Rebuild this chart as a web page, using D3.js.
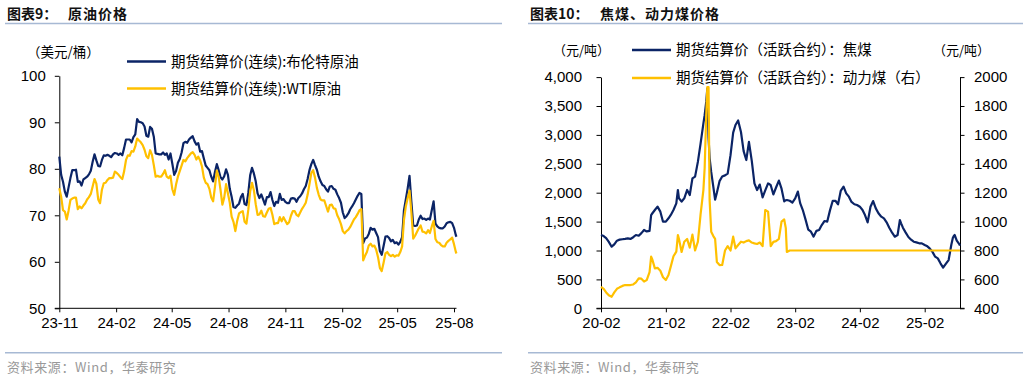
<!DOCTYPE html>
<html><head><meta charset="utf-8">
<script src="https://cdn.jsdelivr.net/npm/d3@7"></script>
<style>
body{margin:0;background:#fff;}
svg{display:block;}
</style></head><body>
<svg id="chart" width="1029" height="378"></svg>
<script>
// ---------------- DATA: crude oil (chart 9), one row per month ----------------
const oilDates = [
'2023-11-01','2023-11-04','2023-11-07','2023-11-10','2023-11-13','2023-11-16','2023-11-19','2023-11-22','2023-11-25','2023-11-28',
'2023-12-01','2023-12-04','2023-12-07','2023-12-10','2023-12-13','2023-12-16','2023-12-19','2023-12-22','2023-12-25','2023-12-28','2023-12-31',
'2024-01-03','2024-01-06','2024-01-09','2024-01-12','2024-01-15','2024-01-18','2024-01-21','2024-01-24','2024-01-27','2024-01-30',
'2024-02-02','2024-02-05','2024-02-08','2024-02-11','2024-02-14','2024-02-17','2024-02-20','2024-02-23','2024-02-26','2024-02-29',
'2024-03-03','2024-03-06','2024-03-09','2024-03-12','2024-03-15','2024-03-18','2024-03-21','2024-03-24','2024-03-27','2024-03-30',
'2024-04-02','2024-04-05','2024-04-08','2024-04-11','2024-04-14','2024-04-17','2024-04-20','2024-04-23','2024-04-26','2024-04-29',
'2024-05-02','2024-05-05','2024-05-08','2024-05-11','2024-05-14','2024-05-17','2024-05-20','2024-05-23','2024-05-26','2024-05-29',
'2024-06-01','2024-06-04','2024-06-07','2024-06-10','2024-06-13','2024-06-16','2024-06-19','2024-06-22','2024-06-25','2024-06-28',
'2024-07-01','2024-07-04','2024-07-07','2024-07-10','2024-07-13','2024-07-16','2024-07-19','2024-07-22','2024-07-25','2024-07-28','2024-07-31',
'2024-08-03','2024-08-06','2024-08-09','2024-08-12','2024-08-15','2024-08-18','2024-08-21','2024-08-24','2024-08-27','2024-08-30',
'2024-09-02','2024-09-05','2024-09-08','2024-09-11','2024-09-14','2024-09-17','2024-09-20','2024-09-23','2024-09-26','2024-09-29',
'2024-10-02','2024-10-05','2024-10-08','2024-10-11','2024-10-14','2024-10-17','2024-10-20','2024-10-23','2024-10-26','2024-10-29',
'2024-11-01','2024-11-04','2024-11-07','2024-11-10','2024-11-13','2024-11-16','2024-11-19','2024-11-22','2024-11-25','2024-11-28',
'2024-12-01','2024-12-04','2024-12-07','2024-12-10','2024-12-13','2024-12-16','2024-12-19','2024-12-22','2024-12-25','2024-12-28','2024-12-31',
'2025-01-03','2025-01-06','2025-01-09','2025-01-12','2025-01-15','2025-01-18','2025-01-21','2025-01-24','2025-01-27','2025-01-30',
'2025-02-02','2025-02-05','2025-02-08','2025-02-11','2025-02-14','2025-02-17','2025-02-20','2025-02-23','2025-02-26',
'2025-03-01','2025-03-04','2025-03-07','2025-03-10','2025-03-13','2025-03-16','2025-03-19','2025-03-22','2025-03-25','2025-03-28','2025-03-31',
'2025-04-03','2025-04-06','2025-04-09','2025-04-12','2025-04-15','2025-04-18','2025-04-21','2025-04-24','2025-04-27','2025-04-30',
'2025-05-03','2025-05-06','2025-05-09','2025-05-12','2025-05-15','2025-05-18','2025-05-21','2025-05-24','2025-05-27','2025-05-30',
'2025-06-02','2025-06-05','2025-06-08','2025-06-11','2025-06-14','2025-06-17','2025-06-20','2025-06-23','2025-06-26','2025-06-29',
'2025-07-02','2025-07-05','2025-07-08','2025-07-11','2025-07-14','2025-07-17','2025-07-20','2025-07-23','2025-07-26','2025-07-29',
'2025-08-01','2025-08-04','2025-08-05'
];
const brent = [
82.6,78.7,77.2,75.1,74.0,76.0,78.0,79.7,79.7,79.8,
77.2,77.3,76.4,77.7,78.0,78.3,78.8,79.6,81.5,83.1,81.8,
80.6,80.5,81.9,82.9,82.8,83.0,82.8,82.5,83.1,83.4,
83.3,83.0,83.3,82.9,84.5,86.3,86.3,86.3,85.7,86.8,
87.4,90.7,90.1,90.0,89.8,89.1,87.1,86.9,89.0,88.6,
86.9,83.3,83.2,83.1,83.1,83.5,83.0,83.3,82.0,83.3,
81.1,78.7,79.5,81.3,82.1,83.5,85.5,85.8,85.6,86.3,
86.7,87.0,85.9,85.2,85.5,83.7,83.8,82.2,80.7,80.2,
79.7,78.3,77.3,79.3,81.0,79.7,78.2,77.7,78.4,79.9,78.7,
75.7,74.0,71.8,71.6,72.1,72.5,73.9,74.6,72.4,72.2,
74.8,78.6,80.2,79.0,77.3,74.7,73.7,74.5,73.4,72.3,
73.9,73.9,75.0,73.3,72.0,72.9,72.7,74.6,73.3,73.5,
72.9,72.6,72.6,73.6,73.7,73.6,72.9,73.7,74.1,74.7,
75.6,76.3,77.8,79.7,81.0,81.9,80.8,79.8,78.3,77.3,76.5,
76.3,75.6,75.1,76.2,76.3,75.7,75.5,74.5,73.7,72.7,
70.6,69.4,69.8,70.4,71.3,71.9,72.6,73.4,74.2,
74.8,74.6,64.0,65.0,65.2,66.0,67.3,66.9,67.1,66.2,65.3,
62.3,61.5,63.4,65.4,65.5,65.1,64.4,64.7,64.0,64.2,
63.7,64.3,65.3,71.1,73.4,75.8,78.5,72.9,67.8,67.7,
67.8,69.1,69.9,69.2,69.3,69.0,69.3,69.1,71.1,73.0,
68.2,67.6,67.3,67.2,67.2,67.6,68.3,68.5,68.6,68.3,
67.3,65.7,65.4
];
const wti = [
75.8,74.0,71.1,70.8,69.1,71.0,73.3,73.6,73.8,73.8,
71.3,71.9,71.5,72.1,72.6,73.4,73.9,74.6,76.2,77.8,76.8,
73.4,72.6,75.5,76.9,77.0,77.6,78.0,78.0,78.1,79.4,
79.1,78.7,78.2,77.8,79.5,81.9,82.9,82.8,83.8,83.7,
84.8,86.5,86.1,85.7,85.1,84.1,82.7,82.3,84.0,83.0,
80.8,78.3,78.5,78.3,78.3,78.9,79.7,78.3,78.0,78.5,
75.6,74.4,76.6,78.3,79.5,80.7,81.9,81.6,82.3,82.8,
83.3,83.6,83.0,82.0,82.6,81.8,80.5,78.1,77.0,76.7,
75.7,73.8,73.0,76.1,79.6,78.3,75.5,72.3,73.8,76.7,74.7,
72.7,69.7,68.6,66.6,68.8,70.4,70.7,70.9,68.6,68.2,
71.2,75.1,77.0,75.4,72.4,70.1,70.2,71.0,69.8,69.7,
70.6,71.4,71.6,70.1,68.1,68.3,68.3,69.6,68.7,69.6,
68.8,68.1,68.5,69.9,70.9,70.9,70.1,69.8,70.6,71.4,
72.0,72.7,74.4,76.7,79.1,79.7,78.1,75.9,74.4,73.4,73.2,
73.2,72.0,70.8,72.2,72.3,71.5,71.4,70.0,69.2,68.1,
66.6,66.1,66.6,66.9,67.5,68.3,69.1,69.6,70.3,
71.1,71.3,60.3,61.3,62.1,63.5,63.9,63.3,63.5,62.6,61.0,
58.7,58.0,59.8,61.8,62.1,61.5,61.2,61.5,61.1,61.4,
61.3,62.1,63.3,69.0,71.9,73.7,75.3,70.6,65.0,65.6,
66.4,67.2,67.8,66.5,66.4,66.1,66.8,66.2,67.6,68.8,
64.9,64.2,64.1,63.6,63.3,63.3,64.1,64.5,64.8,65.2,
63.8,62.1,61.8
];
const oilYTicks = [50, 60, 70, 80, 90, 100];
const oilXTicks = ['2023-11-01','2024-02-01','2024-05-01','2024-08-01','2024-11-01','2025-02-01','2025-05-01','2025-08-01'];

// ---------------- DATA: coal (chart 10) ----------------
const coalDates = [
'2020-02-01','2020-02-16','2020-03-01','2020-03-16','2020-04-01','2020-04-16','2020-05-01','2020-05-16','2020-06-01','2020-06-16',
'2020-07-01','2020-07-16','2020-08-01','2020-08-16','2020-09-01','2020-09-16','2020-10-01','2020-10-16','2020-11-01','2020-11-10',
'2020-11-16','2020-12-01','2020-12-16',
'2021-01-01','2021-01-16','2021-02-01','2021-02-16','2021-03-01','2021-03-16','2021-04-01','2021-04-10','2021-04-16','2021-05-01',
'2021-05-16','2021-06-01','2021-06-16','2021-07-01','2021-07-16','2021-08-01','2021-08-16','2021-09-01','2021-09-08','2021-09-17',
'2021-09-23','2021-09-30','2021-10-06','2021-10-15','2021-10-27','2021-11-06','2021-11-16','2021-12-01','2021-12-16',
'2022-01-01','2022-01-16','2022-02-01','2022-02-16','2022-03-01','2022-03-16','2022-04-01','2022-04-16','2022-05-01','2022-05-16',
'2022-06-01','2022-06-16','2022-07-01','2022-07-16','2022-08-01','2022-08-16','2022-09-01','2022-09-08','2022-09-16','2022-10-01',
'2022-10-16','2022-11-01','2022-11-16','2022-12-01','2022-12-10','2022-12-16',
'2023-01-01','2023-01-16','2023-02-01','2023-02-16','2023-03-01','2023-03-16','2023-04-01','2023-04-16','2023-05-01','2023-05-16',
'2023-06-01','2023-06-16','2023-07-01','2023-07-16','2023-08-01','2023-08-16','2023-09-01','2023-09-16','2023-10-01','2023-10-16',
'2023-11-01','2023-11-16','2023-12-01','2023-12-16',
'2024-01-01','2024-01-16','2024-02-01','2024-02-16','2024-03-01','2024-03-16','2024-04-01','2024-04-16','2024-05-01','2024-05-16',
'2024-06-01','2024-06-16','2024-07-01','2024-07-16','2024-08-01','2024-08-16','2024-09-01','2024-09-14','2024-09-21','2024-10-01',
'2024-10-16','2024-11-01','2024-11-16','2024-12-01','2024-12-16',
'2025-01-01','2025-01-16','2025-02-01','2025-02-16','2025-03-01','2025-03-16','2025-04-01','2025-04-16','2025-05-01','2025-05-16',
'2025-06-01','2025-06-16','2025-07-01','2025-07-10','2025-07-16','2025-07-20','2025-08-01','2025-08-16','2025-08-19'
];
const cokingCoal = [
1268,1250,1215,1150,1066,1107,1170,1188,1195,1200,
1210,1200,1230,1268,1255,1300,1355,1330,1340,1614,
1640,1700,1759,
1672,1499,1499,1557,1615,1701,1816,2047,1903,1845,
1903,2047,1960,2249,2278,2537,2850,3200,3340,3575,
3800,2950,2600,2360,2100,1880,2000,2200,2280,
2300,2330,2650,3040,3171,3250,3050,2720,2565,2880,
2550,2160,2046,2140,1920,2040,2160,2150,2130,1970,
2090,2210,2070,1850,1870,1873,
1860,1830,1900,2020,1820,1700,1530,1360,1326,1240,
1340,1355,1440,1510,1500,1690,1860,1860,1800,2030,
2104,1989,1931,1840,
1800,1787,1758,1700,1614,1487,1758,1856,1729,1643,
1585,1556,1487,1395,1308,1239,1268,1527,1470,1395,
1314,1233,1187,1152,1141,
1124,1124,1095,1072,1037,980,893,864,778,703,
772,835,1095,1222,1256,1268,1170,1106,1083
];
const thermalCoal = [
549,535,510,490,480,510,535,545,555,561,
560,561,565,580,607,605,585,595,650,757,
740,676,680,
660,615,596,630,690,760,792,907,880,790,
861,880,820,910,800,861,1050,1220,1369,1740,
1930,1930,1150,930,900,880,720,699,700,
800,830,800,896,815,838,861,855,865,870,
855,849,845,855,830,1080,1069,960,830,860,
865,880,1000,1015,955,790,
800,800,800,800,800,800,800,800,800,800,
800,800,800,800,800,800,800,800,800,800,
800,800,800,800,
800,800,800,800,800,800,800,800,800,800,
800,800,800,800,800,800,800,800,800,800,
800,800,800,800,800,
800,800,800,800,800,800,800,800,800,800,
800,800,800,800,800,800,800,800,800
];
const coalLeftTicks = [0,500,1000,1500,2000,2500,3000,3500,4000];
const coalRightTicks = [400,600,800,1000,1200,1400,1600,1800,2000];
const coalXTicks = ['2020-02-01','2021-02-01','2022-02-01','2023-02-01','2024-02-01','2025-02-01'];

// ---------------- STYLE ----------------
const NAVY = '#0b2466', GOLD = '#ffc000';
const NUM = '"Liberation Sans", Arial, sans-serif';
const CJK = '"Noto Sans CJK SC", "Noto Sans", sans-serif';
const RULE = '#a7b9d4';
const parse = d3.timeParse('%Y-%m-%d');
const svg = d3.select('#chart');

function frame(x0, x1, tA, tB, tBx, source) {
  svg.append('text').attr('x', x0 + 2).attr('y', 19).attr('font-family', CJK)
    .attr('font-size', 14).attr('font-weight', 'bold').attr('fill', '#111').text(tA);
  svg.append('text').attr('x', tBx).attr('y', 19).attr('font-family', CJK)
    .attr('font-size', 14).attr('font-weight', 'bold').attr('fill', '#111').attr('letter-spacing', 1).text(tB);
  svg.append('line').attr('x1', x0).attr('x2', x1).attr('y1', 23.5).attr('y2', 23.5)
    .attr('stroke', RULE).attr('stroke-width', 1.5);
  svg.append('line').attr('x1', x0).attr('x2', x1).attr('y1', 352.7).attr('y2', 352.7)
    .attr('stroke', RULE).attr('stroke-width', 1.5);
  svg.append('text').attr('x', x0 + 2).attr('y', 372).attr('font-family', CJK)
    .attr('font-size', 13).attr('fill', '#999').attr('letter-spacing', 0.6).text(source);
}

function styleAxis(g) {
  g.selectAll('path.domain').attr('stroke', '#000').attr('stroke-width', 1);
  g.selectAll('.tick line').attr('stroke', '#000').attr('stroke-width', 1);
  g.selectAll('.tick text').attr('font-family', NUM).attr('font-size', 15).attr('fill', '#000');
}

function legend(x, y, color, label) {
  svg.append('line').attr('x1', x).attr('x2', x + 39).attr('y1', y).attr('y2', y)
    .attr('stroke', color).attr('stroke-width', 2.5);
  svg.append('text').attr('x', x + 44).attr('y', y + 5).attr('font-family', CJK)
    .attr('font-size', 14.5).attr('fill', '#000').text(label);
}

// ================= CHART 9 =================
frame(5, 502, '图表9：', '原油价格', 68, '资料来源：Wind，华泰研究');
{
  const x = d3.scaleTime().domain([parse('2023-11-01'), parse('2025-08-01')]).range([59.3, 454]);
  const y = d3.scaleLinear().domain([50, 100]).range([308.3, 75.8]);
  const ya = svg.append('g').attr('transform', 'translate(59.3,0)')
    .call(d3.axisLeft(y).tickValues(oilYTicks).tickSize(4.5).tickSizeOuter(0).tickPadding(9));
  styleAxis(ya);
  const xa = svg.append('g').attr('transform', 'translate(0,308.3)')
    .call(d3.axisBottom(x).tickValues(oilXTicks.map(parse)).tickFormat(d3.timeFormat('%y-%m'))
      .tickSize(4).tickSizeOuter(0).tickPadding(5));
  styleAxis(xa);
  const lastX = x(parse(oilDates[oilDates.length - 1]));
  xa.select('path.domain').attr('d', `M${59.3 - 4.5},0H${lastX}`);

  const rows = oilDates.map((d, i) => ({ d: parse(d), b: brent[i], w: wti[i] }));
  const lb = d3.line().x(r => x(r.d)).y(r => y(r.b));
  const lw = d3.line().x(r => x(r.d)).y(r => y(r.w));
  svg.append('path').datum(rows).attr('d', lb).attr('fill', 'none').attr('stroke', NAVY)
    .attr('stroke-width', 2.2).attr('stroke-linejoin', 'round');
  svg.append('path').datum(rows).attr('d', lw).attr('fill', 'none').attr('stroke', GOLD)
    .attr('stroke-width', 2.2).attr('stroke-linejoin', 'round');

  svg.append('text').attr('x', 27).attr('y', 57).attr('font-family', CJK).attr('font-size', 13.5)
    .attr('fill', '#000').text('（美元/桶）');
  legend(127, 61.5, NAVY, '期货结算价(连续):布伦特原油');
  legend(127, 88.5, GOLD, '期货结算价(连续):WTI原油');
}

// ================= CHART 10 =================
frame(528, 1023, '图表10：', '焦煤、动力煤价格', 600, '资料来源：Wind，华泰研究');
{
  const x = d3.scaleTime().domain([parse('2020-02-01'), parse('2025-02-01')]).range([601, 924.7]);
  const yL = d3.scaleLinear().domain([0, 4000]).range([308.3, 77.1]);
  const yR = d3.scaleLinear().domain([400, 2000]).range([308.3, 77.1]);
  const right = 960;
  const ya = svg.append('g').attr('transform', 'translate(601,0)')
    .call(d3.axisLeft(yL).tickValues(coalLeftTicks).tickFormat(d3.format(',')).tickSize(4.5).tickSizeOuter(0).tickPadding(14.5));
  styleAxis(ya);
  const yb = svg.append('g').attr('transform', `translate(${right},0)`)
    .call(d3.axisRight(yR).tickValues(coalRightTicks).tickFormat(d3.format('d')).tickSize(4.5).tickSizeOuter(0).tickPadding(9.5));
  styleAxis(yb);
  const xa = svg.append('g').attr('transform', 'translate(0,308.3)')
    .call(d3.axisBottom(x).tickValues(coalXTicks.map(parse)).tickFormat(d3.timeFormat('%y-%m'))
      .tickSize(4).tickSizeOuter(0).tickPadding(5));
  styleAxis(xa);
  xa.select('path.domain').attr('d', `M${601 - 4.5},0H${right + 4.5}`);

  const rows = coalDates.map((d, i) => ({ d: parse(d), c: cokingCoal[i], t: thermalCoal[i] }));
  svg.append('path').datum(rows).attr('d', d3.line().x(r => x(r.d)).y(r => yL(r.c)))
    .attr('fill', 'none').attr('stroke', NAVY).attr('stroke-width', 2.2).attr('stroke-linejoin', 'round');
  svg.append('path').datum(rows).attr('d', d3.line().x(r => x(r.d)).y(r => yR(r.t)))
    .attr('fill', 'none').attr('stroke', GOLD).attr('stroke-width', 2.2).attr('stroke-linejoin', 'round');

  svg.append('text').attr('x', 553).attr('y', 55).attr('font-family', CJK).attr('font-size', 13)
    .attr('fill', '#000').text('（元/吨）');
  svg.append('text').attr('x', 933).attr('y', 55).attr('font-family', CJK).attr('font-size', 13)
    .attr('fill', '#000').text('（元/吨）');
  legend(632, 50, NAVY, '期货结算价（活跃合约）：焦煤');
  legend(632, 78, GOLD, '期货结算价（活跃合约）：动力煤（右）');
}
</script>
</body></html>
